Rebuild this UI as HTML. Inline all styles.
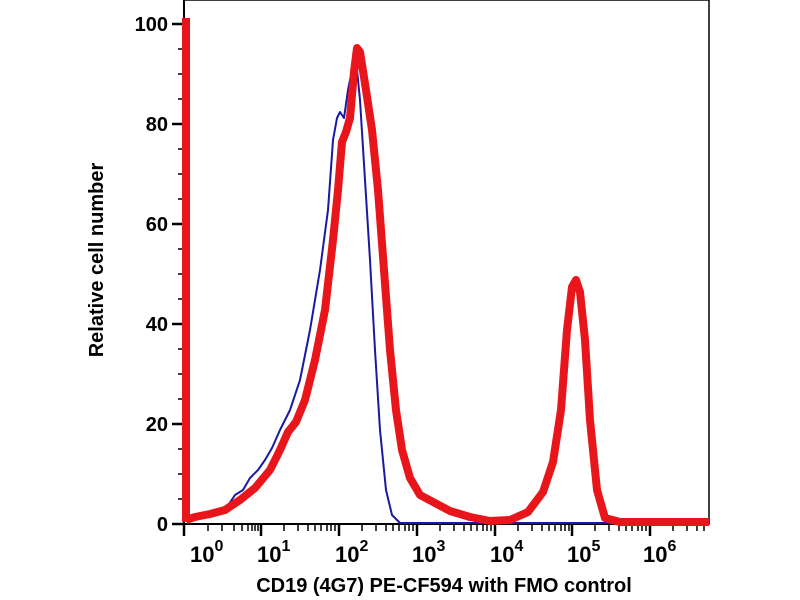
<!DOCTYPE html>
<html><head><meta charset="utf-8"><style>
html,body{margin:0;padding:0;background:#fff;}
svg{display:block;}
text{font-family:"Liberation Sans",Arial,sans-serif;font-weight:bold;fill:#000;}
</style></head><body>
<svg width="800" height="600" viewBox="0 0 800 600" xmlns="http://www.w3.org/2000/svg">
<rect x="184" y="0" width="525" height="524" fill="none" stroke="#000" stroke-width="1.5"/>
<line x1="184" y1="0" x2="184" y2="524" stroke="#000" stroke-width="2"/>
<line x1="184" y1="524" x2="709" y2="524" stroke="#000" stroke-width="2"/>
<g stroke="#000" stroke-width="2.5">
<line x1="172" y1="524" x2="184" y2="524"/><line x1="172" y1="424" x2="184" y2="424"/>
<line x1="172" y1="324" x2="184" y2="324"/><line x1="172" y1="224" x2="184" y2="224"/>
<line x1="172" y1="124" x2="184" y2="124"/><line x1="172" y1="24" x2="184" y2="24"/>
</g>
<g stroke="#000" stroke-width="1.5">
<line x1="178" y1="499" x2="184" y2="499"/><line x1="178" y1="474" x2="184" y2="474"/><line x1="178" y1="449" x2="184" y2="449"/>
<line x1="178" y1="399" x2="184" y2="399"/><line x1="178" y1="374" x2="184" y2="374"/><line x1="178" y1="349" x2="184" y2="349"/>
<line x1="178" y1="299" x2="184" y2="299"/><line x1="178" y1="274" x2="184" y2="274"/><line x1="178" y1="249" x2="184" y2="249"/>
<line x1="178" y1="199" x2="184" y2="199"/><line x1="178" y1="174" x2="184" y2="174"/><line x1="178" y1="149" x2="184" y2="149"/>
<line x1="178" y1="99" x2="184" y2="99"/><line x1="178" y1="74" x2="184" y2="74"/><line x1="178" y1="49" x2="184" y2="49"/>
</g>
<g font-size="20" text-anchor="end">
<text x="168" y="531">0</text><text x="168" y="431">20</text><text x="168" y="331">40</text>
<text x="168" y="231">60</text><text x="168" y="131">80</text><text x="168" y="31">100</text>
</g>
<g stroke="#000" stroke-width="2.5">
<line x1="184" y1="524" x2="184" y2="536"/>
<line x1="261" y1="524" x2="261" y2="536"/><line x1="339" y1="524" x2="339" y2="536"/>
<line x1="417" y1="524" x2="417" y2="536"/><line x1="495" y1="524" x2="495" y2="536"/>
<line x1="572" y1="524" x2="572" y2="536"/><line x1="650" y1="524" x2="650" y2="536"/>
</g>
<g stroke="#000" stroke-width="1.5">
<line x1="208" y1="524" x2="208" y2="531"/><line x1="222" y1="524" x2="222" y2="531"/><line x1="234" y1="524" x2="234" y2="531"/><line x1="242" y1="524" x2="242" y2="531"/><line x1="248" y1="524" x2="248" y2="531"/><line x1="252" y1="524" x2="252" y2="531"/><line x1="255" y1="524" x2="255" y2="531"/><line x1="258" y1="524" x2="258" y2="531"/>
<line x1="284" y1="524" x2="284" y2="531"/><line x1="298" y1="524" x2="298" y2="531"/><line x1="308" y1="524" x2="308" y2="531"/><line x1="315" y1="524" x2="315" y2="531"/><line x1="321" y1="524" x2="321" y2="531"/><line x1="327" y1="524" x2="327" y2="531"/><line x1="331" y1="524" x2="331" y2="531"/><line x1="335" y1="524" x2="335" y2="531"/>
<line x1="362" y1="524" x2="362" y2="531"/><line x1="376" y1="524" x2="376" y2="531"/><line x1="386" y1="524" x2="386" y2="531"/><line x1="393" y1="524" x2="393" y2="531"/><line x1="399" y1="524" x2="399" y2="531"/><line x1="405" y1="524" x2="405" y2="531"/><line x1="409" y1="524" x2="409" y2="531"/><line x1="413" y1="524" x2="413" y2="531"/>
<line x1="440" y1="524" x2="440" y2="531"/><line x1="454" y1="524" x2="454" y2="531"/><line x1="464" y1="524" x2="464" y2="531"/><line x1="471" y1="524" x2="471" y2="531"/><line x1="477" y1="524" x2="477" y2="531"/><line x1="483" y1="524" x2="483" y2="531"/><line x1="487" y1="524" x2="487" y2="531"/><line x1="491" y1="524" x2="491" y2="531"/>
<line x1="518" y1="524" x2="518" y2="531"/><line x1="532" y1="524" x2="532" y2="531"/><line x1="542" y1="524" x2="542" y2="531"/><line x1="549" y1="524" x2="549" y2="531"/><line x1="555" y1="524" x2="555" y2="531"/><line x1="561" y1="524" x2="561" y2="531"/><line x1="565" y1="524" x2="565" y2="531"/><line x1="569" y1="524" x2="569" y2="531"/>
<line x1="595" y1="524" x2="595" y2="531"/><line x1="609" y1="524" x2="609" y2="531"/><line x1="619" y1="524" x2="619" y2="531"/><line x1="626" y1="524" x2="626" y2="531"/><line x1="632" y1="524" x2="632" y2="531"/><line x1="638" y1="524" x2="638" y2="531"/><line x1="642" y1="524" x2="642" y2="531"/><line x1="646" y1="524" x2="646" y2="531"/>
<line x1="673" y1="524" x2="673" y2="531"/><line x1="687" y1="524" x2="687" y2="531"/><line x1="697" y1="524" x2="697" y2="531"/><line x1="704" y1="524" x2="704" y2="531"/>
</g>
<g font-size="22">
<text x="190" y="562">10<tspan font-size="16" dy="-11">0</tspan></text>
<text x="257" y="562">10<tspan font-size="16" dy="-11">1</tspan></text>
<text x="335" y="562">10<tspan font-size="16" dy="-11">2</tspan></text>
<text x="412" y="562">10<tspan font-size="16" dy="-11">3</tspan></text>
<text x="490" y="562">10<tspan font-size="16" dy="-11">4</tspan></text>
<text x="567" y="562">10<tspan font-size="16" dy="-11">5</tspan></text>
<text x="643" y="562">10<tspan font-size="16" dy="-11">6</tspan></text>
</g>
<text x="444" y="592" font-size="20" text-anchor="middle">CD19 (4G7) PE-CF594 with FMO control</text>
<text transform="translate(103,260) rotate(-90)" font-size="20" text-anchor="middle">Relative cell number</text>
<polyline fill="none" stroke="#1a1aa0" stroke-width="2" stroke-linejoin="round" points="186,521 210,515 225,510 235,495 243,490 250,478 258,470 265,460 272,448 280,430 290,410 300,380 310,330 320,270 328,210 333,140 337,118 340,112 344,118 348,90 352,70 356,60 360,100 365,180 370,260 375,350 380,430 386,490 392,515 400,523 709,523"/>
<polyline fill="none" stroke="#e8161b" stroke-width="8" stroke-linejoin="round" points="186,522 186,18"/>
<polyline fill="none" stroke="#e8161b" stroke-width="8" stroke-linejoin="round" points="186,520 195,517 210,514 225,510 240,500 255,488 270,470 280,450 288,432 296,422 305,400 315,360 325,310 333,240 338,190 342,142 346,132 350,118 354,72 357,48 360,52 366,90 372,130 378,190 384,270 390,350 396,410 402,450 410,478 420,495 435,503 450,511 470,517 490,521 510,520 528,512 543,492 553,462 561,410 567,330 572,287 576,280 580,292 585,340 590,420 597,490 605,518 620,522 709,522"/>
</svg>
</body></html>
